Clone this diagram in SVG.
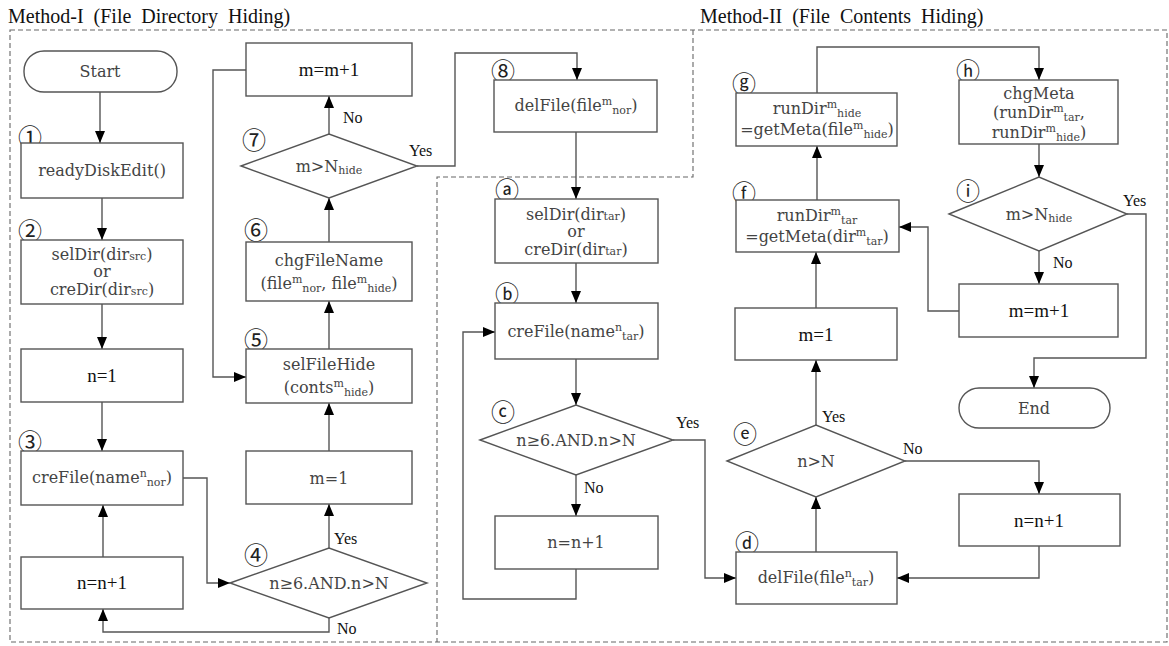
<svg xmlns="http://www.w3.org/2000/svg" width="1169" height="646" viewBox="0 0 1169 646">
<defs>
<marker id="ah" viewBox="0 0 12 10" refX="12" refY="5" markerWidth="12" markerHeight="10" markerUnits="userSpaceOnUse" orient="auto"><path d="M0,0 L12,5 L0,10 z" fill="#000"/></marker>
<style>
.bx{fill:#fff;stroke:#555;stroke-width:1.4}
.cn{fill:none;stroke:#555;stroke-width:1.4}
.ar{marker-end:url(#ah)}
.rg{fill:none;stroke:#666;stroke-width:1.1;stroke-dasharray:5 3}
.t{font-family:"DejaVu Serif","Liberation Serif",serif;font-size:16px;fill:#444;text-anchor:middle}
.b{font-family:"Liberation Serif","DejaVu Serif",serif;font-size:19px;fill:#111;text-anchor:middle}
.s{font-size:11px}
.l{font-family:"Liberation Serif","DejaVu Serif",serif;font-size:16px;fill:#111}
.c{font-family:"Noto Sans CJK KR","DejaVu Sans",sans-serif;font-size:24px;fill:#222;text-anchor:middle;dominant-baseline:central}
.ti{font-family:"Liberation Serif","DejaVu Serif",serif;font-size:20px;fill:#111;word-spacing:5px}
</style>
</defs>
<rect width="1169" height="646" fill="#fff"/>
<g id="regions">
<rect class="rg" x="10" y="30" width="1157" height="612"/>
<polyline class="rg" points="693,30 693,177 437,177 437,642"/>
<text class="ti" x="8" y="23">Method-I (File Directory Hiding)</text>
<text class="ti" x="700" y="23">Method-II (File Contents Hiding)</text>
</g>
<g id="connectors">
<line class="cn ar" x1="100" y1="92" x2="100" y2="143"/>
<line class="cn ar" x1="102" y1="198" x2="102" y2="240"/>
<line class="cn ar" x1="102" y1="304" x2="102" y2="349"/>
<line class="cn ar" x1="102" y1="402" x2="102" y2="451"/>
<line class="cn ar" x1="103" y1="557" x2="103" y2="505"/>
<polyline class="cn ar" points="183,478 207,478 207,583 230,583"/>
<polyline class="cn ar" points="329,618 329,632 103,632 103,609"/>
<line class="cn ar" x1="329" y1="548" x2="329" y2="504"/>
<line class="cn ar" x1="329" y1="451" x2="329" y2="403"/>
<line class="cn ar" x1="329" y1="349" x2="329" y2="301"/>
<line class="cn ar" x1="329" y1="242" x2="329" y2="198"/>
<line class="cn ar" x1="329" y1="134" x2="329" y2="96"/>
<polyline class="cn ar" points="246,70 213,70 213,377 246,377"/>
<polyline class="cn ar" points="417,166 455,166 455,53 577,53 577,80"/>
<line class="cn ar" x1="576" y1="132" x2="576" y2="199"/>
<line class="cn ar" x1="576" y1="263" x2="576" y2="303"/>
<line class="cn ar" x1="576" y1="359" x2="576" y2="405"/>
<line class="cn ar" x1="576" y1="475" x2="576" y2="516"/>
<polyline class="cn ar" points="576,569 576,599 463,599 463,332 495,332"/>
<polyline class="cn ar" points="673,440 705,440 705,578 736,578"/>
<line class="cn ar" x1="816" y1="552" x2="816" y2="497"/>
<line class="cn ar" x1="816" y1="425" x2="816" y2="360"/>
<polyline class="cn ar" points="905,461 1039,461 1039,494"/>
<polyline class="cn ar" points="1039,546 1039,578 897,578"/>
<line class="cn ar" x1="816" y1="308" x2="816" y2="252"/>
<line class="cn ar" x1="817" y1="200" x2="817" y2="146"/>
<polyline class="cn ar" points="817,93 817,47 1039,47 1039,80"/>
<line class="cn ar" x1="1039" y1="144" x2="1039" y2="177"/>
<line class="cn ar" x1="1039" y1="251" x2="1039" y2="284"/>
<polyline class="cn ar" points="959,311 928,311 928,227 899,227"/>
<polyline class="cn ar" points="1127,214 1146,214 1146,358 1034,358 1034,388"/>
<text class="l" x="343" y="123">No</text>
<text class="l" x="409" y="156">Yes</text>
<text class="l" x="334" y="544">Yes</text>
<text class="l" x="337" y="634">No</text>
<text class="l" x="676" y="428">Yes</text>
<text class="l" x="584" y="493">No</text>
<text class="l" x="822" y="422">Yes</text>
<text class="l" x="903" y="454">No</text>
<text class="l" x="1123" y="206">Yes</text>
<text class="l" x="1053" y="268">No</text>
</g>
<g id="start"><rect class="bx" x="24" y="51" width="153" height="41" rx="20"/><text class="t" x="100" y="77">Start</text></g>
<g id="n1"><text class="c" x="30" y="135">①</text><rect class="bx" x="21" y="143" width="162" height="55"/><text class="t" x="102" y="176">readyDiskEdit()</text></g>
<g id="n2"><text class="c" x="30" y="229">②</text><rect class="bx" x="21" y="240" width="162" height="64"/>
<text class="t" x="102" y="260">selDir(dir<tspan class="s">src</tspan>)</text>
<text class="t" x="102" y="277">or</text>
<text class="t" x="102" y="295">creDir(dir<tspan class="s">src</tspan>)</text></g>
<g id="nset"><rect class="bx" x="21" y="349" width="162" height="53"/><text class="b" x="102" y="382">n=1</text></g>
<g id="n3"><text class="c" x="30" y="440">③</text><rect class="bx" x="21" y="451" width="162" height="54"/>
<text class="t" x="102" y="483">creFile(name<tspan class="s" dy="-6">n</tspan><tspan class="s" dy="9">nor</tspan><tspan dy="-3">)</tspan></text></g>
<g id="ninc1"><rect class="bx" x="21" y="557" width="162" height="52"/><text class="b" x="102" y="589">n=n+1</text></g>
<g id="n4"><text class="c" x="256" y="553">④</text><polygon class="bx" points="230,583 329,548 427,583 329,618"/><text class="t" x="329" y="589">n≥6.AND.n&gt;N</text></g>
<g id="mset1"><rect class="bx" x="246" y="451" width="166" height="53"/><text class="t" x="329" y="484">m=1</text></g>
<g id="n5"><text class="c" x="256" y="338">⑤</text><rect class="bx" x="246" y="349" width="166" height="54"/>
<text class="t" x="329" y="370">selFileHide</text>
<text class="t" x="329" y="393">(conts<tspan class="s" dy="-6">m</tspan><tspan class="s" dy="9">hide</tspan><tspan dy="-3">)</tspan></text></g>
<g id="n6"><text class="c" x="256" y="228">⑥</text><rect class="bx" x="246" y="242" width="166" height="59"/>
<text class="t" x="329" y="266">chgFileName</text>
<text class="t" x="329" y="289">(file<tspan class="s" dy="-6">m</tspan><tspan class="s" dy="9">nor</tspan><tspan dy="-3">, file</tspan><tspan class="s" dy="-6">m</tspan><tspan class="s" dy="9">hide</tspan><tspan dy="-3">)</tspan></text></g>
<g id="n7"><text class="c" x="254" y="138">⑦</text><polygon class="bx" points="241,166 329,134 417,166 329,198"/><text class="t" x="329" y="172">m&gt;N<tspan class="s" dy="2">hide</tspan></text></g>
<g id="minc1"><rect class="bx" x="246" y="43" width="166" height="53"/><text class="b" x="329" y="76">m=m+1</text></g>
<g id="n8"><text class="c" x="503" y="69">⑧</text><rect class="bx" x="494" y="80" width="163" height="52"/>
<text class="t" x="576" y="111">delFile(file<tspan class="s" dy="-6">m</tspan><tspan class="s" dy="9">nor</tspan><tspan dy="-3">)</tspan></text></g>
<g id="na"><text class="c" x="507" y="188">ⓐ</text><rect class="bx" x="495" y="199" width="163" height="64"/>
<text class="t" x="576" y="220">selDir(dir<tspan class="s">tar</tspan>)</text>
<text class="t" x="576" y="237">or</text>
<text class="t" x="576" y="255">creDir(dir<tspan class="s">tar</tspan>)</text></g>
<g id="nb"><text class="c" x="507" y="292">ⓑ</text><rect class="bx" x="495" y="303" width="163" height="56"/>
<text class="t" x="576" y="337">creFile(name<tspan class="s" dy="-6">n</tspan><tspan class="s" dy="9">tar</tspan><tspan dy="-3">)</tspan></text></g>
<g id="nc"><text class="c" x="503" y="410">ⓒ</text><polygon class="bx" points="480,440 576,405 673,440 576,475"/><text class="t" x="576" y="446">n≥6.AND.n&gt;N</text></g>
<g id="ninc2"><rect class="bx" x="495" y="516" width="163" height="53"/><text class="t" x="576" y="548">n=n+1</text></g>
<g id="nd"><text class="c" x="747" y="541">ⓓ</text><rect class="bx" x="736" y="552" width="161" height="52"/>
<text class="t" x="816" y="583">delFile(file<tspan class="s" dy="-6">n</tspan><tspan class="s" dy="9">tar</tspan><tspan dy="-3">)</tspan></text></g>
<g id="ne"><text class="c" x="745" y="432">ⓔ</text><polygon class="bx" points="727,461 816,425 905,461 816,497"/><text class="t" x="816" y="467">n&gt;N</text></g>
<g id="mset2"><rect class="bx" x="735" y="308" width="162" height="52"/><text class="b" x="816" y="341">m=1</text></g>
<g id="ninc3"><rect class="bx" x="959" y="494" width="161" height="52"/><text class="b" x="1039" y="527">n=n+1</text></g>
<g id="nf"><text class="c" x="744" y="191">ⓕ</text><rect class="bx" x="736" y="200" width="163" height="52"/>
<text class="t" x="817" y="221">runDir<tspan class="s" dy="-6">m</tspan><tspan class="s" dy="9">tar</tspan></text>
<text class="t" x="817" y="242">=getMeta(dir<tspan class="s" dy="-6">m</tspan><tspan class="s" dy="9">tar</tspan><tspan dy="-3">)</tspan></text></g>
<g id="ng"><text class="c" x="744" y="82">ⓖ</text><rect class="bx" x="736" y="93" width="161" height="53"/>
<text class="t" x="817" y="114">runDir<tspan class="s" dy="-6">m</tspan><tspan class="s" dy="9">hide</tspan></text>
<text class="t" x="817" y="135">=getMeta(file<tspan class="s" dy="-6">m</tspan><tspan class="s" dy="9">hide</tspan><tspan dy="-3">)</tspan></text></g>
<g id="nh"><text class="c" x="968" y="69">ⓗ</text><rect class="bx" x="959" y="80" width="159" height="64"/>
<text class="t" x="1039" y="99">chgMeta</text>
<text class="t" x="1039" y="118">(runDir<tspan class="s" dy="-6">m</tspan><tspan class="s" dy="9">tar</tspan><tspan dy="-3">,</tspan></text>
<text class="t" x="1039" y="138">runDir<tspan class="s" dy="-6">m</tspan><tspan class="s" dy="9">hide</tspan><tspan dy="-3">)</tspan></text></g>
<g id="ni"><text class="c" x="968" y="189">ⓘ</text><polygon class="bx" points="949,214 1039,177 1127,214 1039,251"/><text class="t" x="1039" y="220">m&gt;N<tspan class="s" dy="2">hide</tspan></text></g>
<g id="minc2"><rect class="bx" x="959" y="284" width="159" height="53"/><text class="b" x="1039" y="317">m=m+1</text></g>
<g id="end"><rect class="bx" x="959" y="388" width="151" height="40" rx="20"/><text class="t" x="1034" y="414">End</text></g>
</svg>
